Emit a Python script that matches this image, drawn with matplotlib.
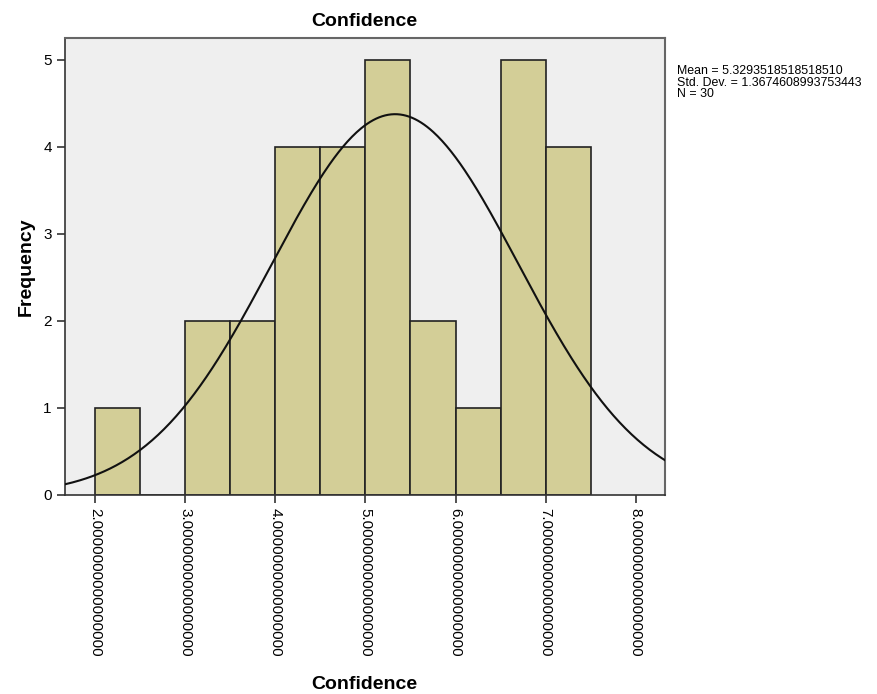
import matplotlib
matplotlib.use('Agg')
import matplotlib.pyplot as plt
import numpy as np

plt.rcParams['font.family'] = ['Liberation Sans', 'DejaVu Sans']

# histogram bins (width 0.5) and counts for Confidence
bin_edges = [2.0, 2.5, 3.0, 3.5, 4.0, 4.5, 5.0, 5.5, 6.0, 6.5, 7.0, 7.5]
counts = [1, 0, 2, 2, 4, 4, 5, 2, 1, 5, 4]
mean = 5.3293518518518510
std = 1.3674608993753443
n = 30
mean_txt = '5.3293518518518510'
std_txt = '1.3674608993753443'
xticks = [2.0, 3.0, 4.0, 5.0, 6.0, 7.0, 8.0]
yticks = [0, 1, 2, 3, 4, 5]

fig = plt.figure(figsize=(8.78, 6.94), dpi=100)
ax = fig.add_axes([0.074, 0.287, 0.683, 0.658])
ax.set_facecolor('#efefef')

lefts = np.array(bin_edges[:-1])
widths = np.diff(bin_edges)
ax.bar(lefts, counts, width=widths, align='edge', color='#d3ce97',
       edgecolor='#222222', linewidth=1.2, zorder=2)

# normal curve scaled to counts
xs = np.linspace(1.667, 8.32, 400)
bw = widths[0]
ys = n * bw / (std * np.sqrt(2 * np.pi)) * np.exp(-0.5 * ((xs - mean) / std) ** 2)
ax.plot(xs, ys, color='#111111', linewidth=1.5, zorder=3)

ax.set_xlim(1.667, 8.32)
ax.set_ylim(0, 5.25)
ax.set_xticks(xticks)
ax.set_xticklabels(['%.16f' % t for t in xticks], rotation=270, fontsize=11,
                   va='top', ha='center')
ax.set_yticks(yticks)
ax.set_yticklabels([str(t) for t in yticks], fontsize=11)
ax.tick_params(direction='out', length=6, width=1.2, color='#333333')

for s in ['left', 'bottom']:
    ax.spines[s].set_color('#333333')
    ax.spines[s].set_linewidth(1.2)
for s in ['top', 'right']:
    ax.spines[s].set_color('#666666')
    ax.spines[s].set_linewidth(1.5)

ax.set_title('Confidence', fontsize=14, fontweight='bold', pad=9)
ax.set_xlabel('Confidence', fontsize=14, fontweight='bold', labelpad=14)
ax.set_ylabel('Frequency', fontsize=14, fontweight='bold', labelpad=6)

fig.text(0.771, 0.906, 'Mean = %s\nStd. Dev. = %s\nN = %d' % (mean_txt, std_txt, n),
         fontsize=8.9, va='top', ha='left', linespacing=0.92)

fig.savefig('out.png', dpi=100, facecolor='white')
